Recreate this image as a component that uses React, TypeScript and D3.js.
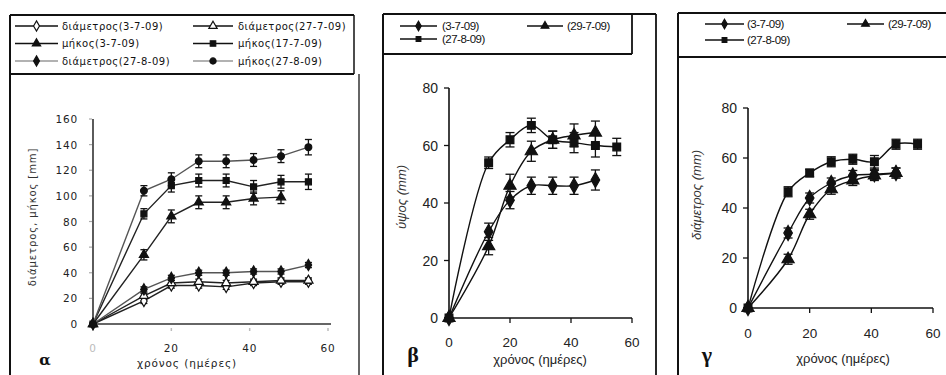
import React from 'react';
import * as d3 from 'd3';

// sampling days (ημέρες)
const days = [0, 13, 20, 27, 34, 41, 48, 55];
const xTicks = [0, 20, 40, 60];
const yTicksA = [0, 20, 40, 60, 80, 100, 120, 140, 160];
const yTicks80 = [0, 20, 40, 60, 80];

// panel α : διάμετρος / μήκος
const aLabels = ['διάμετρος(3-7-09)', 'διάμετρος(27-7-09)', 'μήκος(3-7-09)', 'μήκος(17-7-09)', 'διάμετρος(27-8-09)', 'μήκος(27-8-09)'];
const aDiam37 = [0, 18, 30, 30, 29, 32, 33, 33];
const aDiam277 = [0, 22, 32, 33, 32, 33, 34, 34];
const aLen37 = [0, 54, 84, 95, 95, 98, 99];
const aLen177 = [0, 86, 108, 112, 112, 107, 111, 111];
const aDiam278 = [0, 27, 36, 40, 40, 41, 41, 46];
const aLen278 = [0, 104, 113, 127, 127, 128, 131, 138];
const aErrSmall = [0, 2, 2, 2, 2, 2, 2, 2];
const aErrBig = [0, 4, 5, 5, 5, 5, 5, 6];

// panel β : ύψος
const bLabels = ['(3-7-09)', '(29-7-09)', '(27-8-09)'];
const bH37 = [0, 30, 41, 46, 46, 46, 48];
const bH297 = [0, 25, 46, 58, 62, 63.5, 64.5];
const bH278 = [0, 54, 62, 67, 62, 61, 60, 59.5];
const bErr37 = [0, 3, 3, 3, 3, 3, 3.5];
const bErr297 = [0, 3, 4, 3.5, 3, 4, 4];
const bErr278 = [0, 2, 2.5, 2.5, 3, 3.5, 4, 3];

// panel γ : διάμετρος
const gD37 = [0, 30, 44, 50, 53, 53.5, 54];
const gD297 = [0, 19.5, 37.5, 47.5, 51, 53, 54];
const gD278 = [0, 46.5, 54, 58.5, 59.5, 58.5, 65.5, 65.5];
const gErr37 = [0, 2, 2, 2, 2, 2, 2];
const gErr297 = [0, 2, 2, 2, 2, 2, 2];
const gErr278 = [0, 2, 1.5, 2, 2, 2.5, 2, 2];

const sans = 'Liberation Sans, Arial, sans-serif';
const dv = 'DejaVu Sans, sans-serif';

function Marker({ sym, size, filled, x, y }) {
  const d = d3.symbol(sym, size)();
  return <path d={d} transform={`translate(${x},${y})`} fill={filled ? '#111' : '#fff'} stroke="#111" strokeWidth={1.2} />;
}

function Series({ x, y, vals, errs, sym, size, filled, stroke, curve, cap }) {
  const pts = vals.map((v, i) => [x(days[i]), y(v)]);
  const line = d3.line().curve(curve)(pts);
  return (
    <g>
      <path d={line} fill="none" stroke={stroke} strokeWidth={1.4} />
      {errs && vals.map((v, i) => {
        const e = errs[i] || 0;
        if (!e) return null;
        const px = x(days[i]);
        return (
          <g key={i} stroke="#111" strokeWidth={1.3}>
            <line x1={px} x2={px} y1={y(v - e)} y2={y(v + e)} />
            <line x1={px - cap} x2={px + cap} y1={y(v - e)} y2={y(v - e)} />
            <line x1={px - cap} x2={px + cap} y1={y(v + e)} y2={y(v + e)} />
          </g>
        );
      })}
      {pts.map(([px, py], i) => <Marker key={i} sym={sym} size={size} filled={filled} x={px} y={py} />)}
    </g>
  );
}

function LegendItem({ x1, x2, y, sym, size, filled, stroke, label, font, fs, ls, tx }) {
  return (
    <g>
      <line x1={x1} x2={x2} y1={y} y2={y} stroke={stroke} strokeWidth={1.6} />
      <Marker sym={sym} size={size} filled={filled} x={(x1 + x2) / 2} y={y} />
      <text x={tx} y={y + fs * 0.36} fontFamily={font} fontSize={fs} letterSpacing={ls} fill="#111">{label}</text>
    </g>
  );
}

function PanelA() {
  const x = d3.scaleLinear([0, 60], [93, 328]);
  const y = d3.scaleLinear([0, 160], [324, 119]);
  const cv = d3.curveLinear;
  const series = [
    { vals: aDiam37, errs: aErrSmall, sym: d3.symbolDiamond, filled: false, stroke: '#222' },
    { vals: aDiam277, errs: aErrSmall, sym: d3.symbolTriangle, filled: false, stroke: '#222' },
    { vals: aLen37, errs: aErrBig, sym: d3.symbolTriangle, filled: true, stroke: '#222' },
    { vals: aLen177, errs: aErrBig, sym: d3.symbolSquare, filled: true, stroke: '#222' },
    { vals: aDiam278, errs: aErrSmall, sym: d3.symbolDiamond, filled: true, stroke: '#555' },
    { vals: aLen278, errs: aErrBig, sym: d3.symbolCircle, filled: true, stroke: '#555' },
  ];
  const legendStroke = ['#111', '#111', '#111', '#111', '#999', '#999'];
  const rows = [26, 43.5, 61];
  return (
    <g>
      <line x1={10} x2={354} y1={15} y2={15} stroke="#111" strokeWidth={2} />
      <line x1={10} x2={354} y1={74} y2={74} stroke="#111" strokeWidth={2} />
      <line x1={354} x2={354} y1={15} y2={74} stroke="#111" strokeWidth={1.5} />
      <line x1={10} x2={10} y1={15} y2={375} stroke="#111" strokeWidth={2} />
      <line x1={359} x2={359} y1={74} y2={375} stroke="#333" strokeWidth={1.5} />
      {series.map((s, i) => (
        <LegendItem key={i} x1={i % 2 ? 193 : 15} x2={i % 2 ? 233 : 58} y={rows[Math.floor(i / 2)]}
          sym={s.sym} size={30} filled={s.filled} stroke={legendStroke[i]} label={aLabels[i]}
          font={dv} fs={10} ls={0.5} tx={i % 2 ? 238 : 62} />
      ))}
      {/* axes */}
      <line x1={x(0)} x2={x(0)} y1={y(160)} y2={y(0)} stroke="#333" strokeWidth={1.6} />
      <line x1={x(0)} x2={331} y1={y(0)} y2={y(0)} stroke="#333" strokeWidth={1.6} />
      {yTicksA.map(t => (
        <g key={t}>
          <line x1={x(0) - 4} x2={x(0) - 1} y1={y(t)} y2={y(t)} stroke="#aaa" strokeWidth={1.2} />
          <text x={78} y={y(t) + 4} textAnchor="end" fontFamily={dv} fontSize={10.5} letterSpacing={0.8} fill="#222">{t}</text>
        </g>
      ))}
      {xTicks.map(t => (
        <g key={t}>
          <line x1={x(t)} x2={x(t)} y1={y(0) + 4} y2={y(0) + 7} stroke="#bbb" strokeWidth={1.5} />
          <text x={x(t)} y={352} textAnchor="middle" fontFamily={dv} fontSize={10.5} letterSpacing={0.8} fill={t === 0 ? '#bbb' : '#222'}>{t}</text>
        </g>
      ))}
      <text x={187} y={367} textAnchor="middle" fontFamily={dv} fontSize={10.5} letterSpacing={0.9} fill="#222">χρόνος (ημέρες)</text>
      <text transform="translate(36,217) rotate(-90)" textAnchor="middle" fontFamily={dv} fontSize={10} letterSpacing={0.9} fill="#333">διάμετρος, μήκος [mm]</text>
      <text x={45} y={365} textAnchor="middle" fontFamily="DejaVu Serif, serif" fontWeight="bold" fontSize={15} fill="#111">α</text>
      {series.map((s, i) => (
        <Series key={i} x={x} y={y} vals={s.vals} errs={s.errs} sym={s.sym} size={36} filled={s.filled}
          stroke={s.stroke} curve={cv} cap={3.5} />
      ))}
    </g>
  );
}

function SmoothPanel({ left, right, top, legBottom, legRight, yAxisX, xEnd, y0, y80, vals, errs, yLabel, letter, letterX, tickY, titleY, titleX, yLabelX, yLabelY, legendXs }) {
  const x = d3.scaleLinear([0, 60], [yAxisX, xEnd]);
  const y = d3.scaleLinear([0, 80], [y0, y80]);
  const syms = [d3.symbolDiamond, d3.symbolTriangle, d3.symbolSquare];
  const cv = d3.curveCatmullRom.alpha(0.5);
  const [lx1, lx2, ltx, rx1, rx2, rtx, row1, row2] = legendXs;
  return (
    <g>
      <line x1={left} x2={right} y1={top} y2={top} stroke="#111" strokeWidth={2} />
      <line x1={left} x2={left} y1={top} y2={375} stroke="#111" strokeWidth={2} />
      {right < 946 && <line x1={right} x2={right} y1={top} y2={375} stroke="#111" strokeWidth={1.8} />}
      <line x1={left} x2={legRight} y1={legBottom} y2={legBottom} stroke="#111" strokeWidth={1.8} />
      {legRight < right && <line x1={legRight} x2={legRight} y1={top} y2={legBottom} stroke="#111" strokeWidth={1.8} />}
      <LegendItem x1={lx1} x2={lx2} y={row1} sym={syms[0]} size={26} filled stroke="#111" label={bLabels[0]} font={sans} fs={11.5} ls={-0.5} tx={ltx} />
      <LegendItem x1={rx1} x2={rx2} y={row1} sym={syms[1]} size={26} filled stroke="#111" label={bLabels[1]} font={sans} fs={11.5} ls={-0.5} tx={rtx} />
      <LegendItem x1={lx1} x2={lx2} y={row2} sym={syms[2]} size={22} filled stroke="#111" label={bLabels[2]} font={sans} fs={11.5} ls={-0.5} tx={ltx} />
      {/* axes */}
      <line x1={x(0)} x2={x(0)} y1={y(80)} y2={y(0)} stroke="#111" strokeWidth={1.6} />
      <line x1={x(0)} x2={x(60)} y1={y(0)} y2={y(0)} stroke="#111" strokeWidth={1.6} />
      {yTicks80.map(t => (
        <g key={t}>
          <line x1={x(0) - 5} x2={x(0)} y1={y(t)} y2={y(t)} stroke="#111" strokeWidth={1.3} />
          <text x={x(0) - 11} y={y(t) + 5} textAnchor="end" fontFamily={sans} fontSize={14} fill="#222">{t}</text>
        </g>
      ))}
      {xTicks.map(t => (
        <g key={t}>
          <line x1={x(t)} x2={x(t)} y1={y(0)} y2={y(0) + 5} stroke="#111" strokeWidth={1.3} />
          <text x={x(t)} y={tickY} textAnchor="middle" fontFamily={sans} fontSize={13.5} fill="#222">{t}</text>
        </g>
      ))}
      <text x={titleX} y={titleY} textAnchor="middle" fontFamily={sans} fontSize={13} fill="#222">χρόνος (ημέρες)</text>
      <text transform={`translate(${yLabelX},${yLabelY}) rotate(-90)`} textAnchor="middle" fontFamily={sans} fontStyle="italic" fontSize={13} fill="#333">{yLabel}</text>
      <text x={letterX} y={362} textAnchor="middle" fontFamily="Liberation Serif, serif" fontWeight="bold" fontSize={22} fill="#111">{letter}</text>
      {vals.map((v, i) => (
        <Series key={i} x={x} y={y} vals={v} errs={errs[i]} sym={syms[i]} size={i === 2 ? 60 : 64} filled stroke="#111" curve={cv} cap={4.5} />
      ))}
    </g>
  );
}

export default function App() {
  return (
    <svg width={946} height={375} style={{ position: 'absolute', left: 0, top: 0, background: '#fff' }}>
      <rect width={946} height={375} fill="#fff" />
      <PanelA />
      <SmoothPanel left={383} right={656} top={14} legBottom={54} legRight={632}
        yAxisX={449} xEnd={632} y0={318} y80={88}
        vals={[bH37, bH297, bH278]} errs={[bErr37, bErr297, bErr278]}
        yLabel="ύψος (mm)" letter="β" letterX={413} tickY={347} titleY={364} titleX={540}
        yLabelX={406} yLabelY={197} legendXs={[400, 437, 442, 527, 563, 567, 26, 39]} />
      <SmoothPanel left={678} right={946} top={13} legBottom={57} legRight={946}
        yAxisX={748} xEnd={933} y0={308} y80={108}
        vals={[gD37, gD297, gD278]} errs={[gErr37, gErr297, gErr278]}
        yLabel="διάμετρος  (mm)" letter="γ" letterX={707} tickY={338} titleY={363} titleX={843}
        yLabelX={701} yLabelY={195} legendXs={[705, 744, 747, 847, 884, 888, 24, 40]} />
    </svg>
  );
}
